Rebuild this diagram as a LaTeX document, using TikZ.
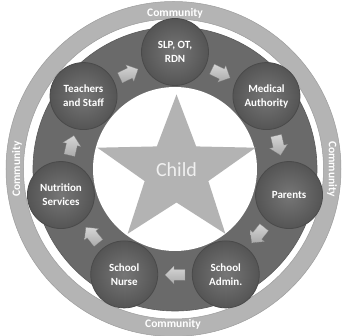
\documentclass[tikz,border=0pt]{standalone}
\usepackage{fontspec}
\setmainfont{Carlito}
\definecolor{commfill}{HTML}{B4B4B4}
\definecolor{commedge}{HTML}{9C9C9C}
\definecolor{darkring}{HTML}{6A6A6A}
\definecolor{nodefill}{HTML}{5E5E5E}
\definecolor{nodeedge}{HTML}{4A4A4A}
\definecolor{starfill}{HTML}{B3B3B3}
\definecolor{arrowfill}{HTML}{C8C8C8}
\tikzset{
  agency/.style={circle, minimum size=67pt, inner sep=0pt, align=center,
    inner color=nodefill!85!white, outer color=nodefill!90!black, draw=nodeedge, line width=0.8pt,
    text=white, font=\fontsize{11}{14}\selectfont\bfseries},
  flowarrow/.style={top color=arrowfill!75!white, bottom color=arrowfill!85!black, draw=arrowfill!80!black, line width=0.3pt},
  commlabel/.style={text=white, font=\fontsize{11.5}{13}\selectfont\bfseries, inner sep=0pt}
}
\begin{document}
\begin{tikzpicture}[x=1pt,y=1pt]
\useasboundingbox (-175,-167) rectangle (170,169);
% community ring
\fill[commfill, even odd rule, draw=commedge, line width=0.5pt] (-1.5,0) circle (167.5) (-1.5,0) circle (150);
% dark ring
\fill[darkring, draw=darkring!85!black, line width=0.6pt] (0,0) circle (142);
\fill[white] (0,0) circle (82);
% star
\fill[starfill, shift={(1.5,-2.5)}, xscale=1.08]
  (90:77) -- (126:31) -- (162:77) -- (198:31) -- (234:77) -- (270:31)
  -- (306:77) -- (342:31) -- (18:77) -- (54:31) -- cycle;
\node[text=white!94!black, font=\fontsize{20}{24}\selectfont] (child) at (1.5,-1) {Child};
% community labels
\node[commlabel] (ct) at (0,156) {Community};
\node[commlabel] (cb) at (-2,-155) {Community};
\node[commlabel, rotate=90] (cl) at (-158,0) {Community};
\node[commlabel, rotate=-90] (cr) at (157,0) {Community};
% agency circles
\node[agency] (slp) at (90:117) {SLP, OT,\\RDN};
\node[agency] (med) at ({90-360/7}:117) {Medical\\Authority};
\node[agency] (par) at ({90-2*360/7}:117) {Parents};
\node[agency] (adm) at ({90-3*360/7}:117) {School\\Admin.};
\node[agency] (nur) at ({90-4*360/7}:117) {School\\Nurse};
\node[agency] (nut) at ({90-5*360/7}:117) {Nutrition\\Services};
\node[agency] (tea) at ({90-6*360/7}:117) {Teachers\\and Staff};
% flow arrows (clockwise block arrows)
\foreach \k/\nm in {0/a1,1/a2,2/a3,3/a4,4/a5,5/a6,6/a7}{
  \pgfmathsetmacro{\ang}{90-(\k+0.5)*360/7}
  \coordinate (\nm) at (\ang:106);
  \begin{scope}[shift={(\nm)}, rotate=\ang-90]
    \fill[flowarrow] (-10,-5.5) -- (1,-5.5) -- (1,-9) -- (10,0) -- (1,9) -- (1,5.5) -- (-10,5.5) -- cycle;
  \end{scope}
}
\end{tikzpicture}
\end{document}
